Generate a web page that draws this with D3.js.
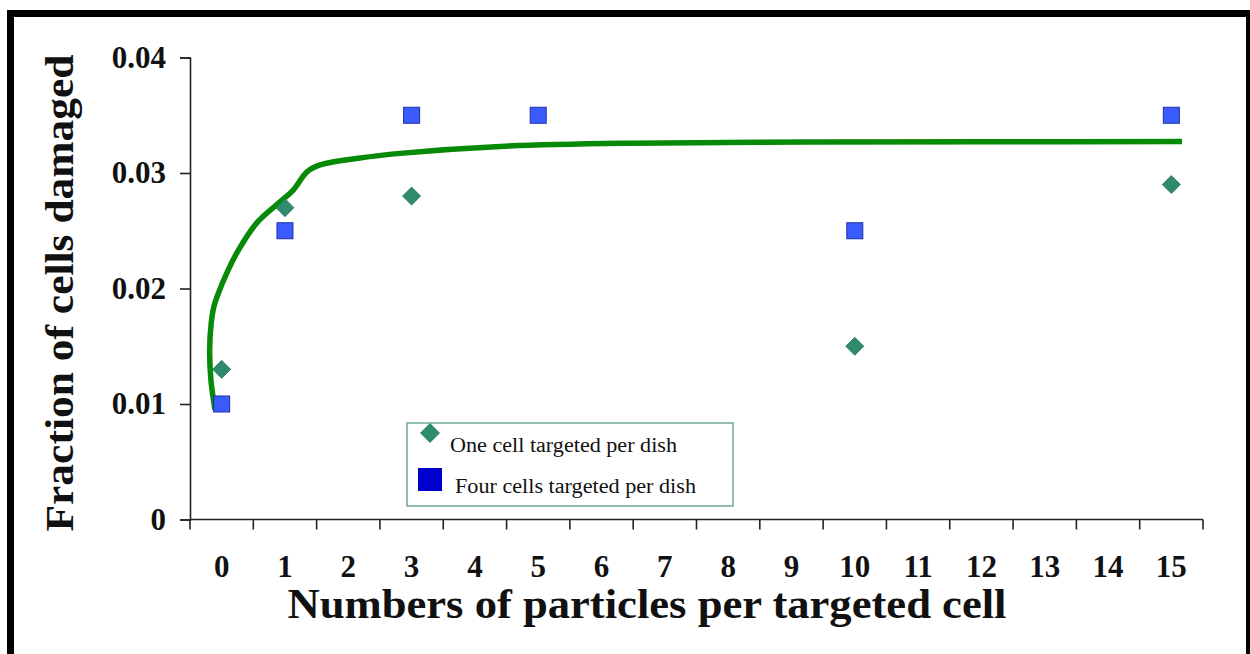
<!DOCTYPE html>
<html>
<head>
<meta charset="utf-8">
<script src="https://cdn.jsdelivr.net/npm/d3@7"></script>
<style>
  body { margin: 0; background: #fff; }
  svg { display: block; }
  text { font-family: 'Liberation Serif', 'Times New Roman', serif; }
</style>
</head>
<body>
<div id="chart"></div>
<script>
(function() {

  'use strict'

  // categories on the x axis
  var categories = ['0', '1', '2', '3', '4', '5', '6', '7', '8', '9', '10', '11', '12', '13', '14', '15'];

  // one cell targeted per dish (diamonds)
  var oneCellX = ['0', '1', '3', '10', '15'];
  var oneCellY = [0.013, 0.027, 0.028, 0.015, 0.029];

  // four cells targeted per dish (squares)
  var fourCellX = ['0', '1', '3', '5', '10', '15'];
  var fourCellY = [0.010, 0.025, 0.035, 0.035, 0.025, 0.035];

  // fitted curve, x in category index units
  var fitX = [-0.105, -0.17, -0.19, -0.165, -0.12, -0.03, 0.07, 0.242, 0.558, 0.922, 1.127, 1.348, 1.553, 2.185, 2.817, 4.397, 6.5, 9.3, 12.2, 15.169];
  var fitY = [0.0095, 0.0121, 0.0147, 0.0170, 0.0185, 0.0199, 0.0212, 0.0231, 0.0257, 0.0275, 0.0285, 0.0301, 0.0307, 0.0313, 0.0317, 0.0323, 0.03258, 0.03268, 0.03271, 0.03272];

  var yTicks = [0, 0.01, 0.02, 0.03, 0.04];
  var yTickLabels = ['0', '0.01', '0.02', '0.03', '0.04'];

  var width = 1250;
  var height = 654;
  var margin = { left: 190, right: 47, top: 57.5, bottom: 134.5 };

  var svg = d3.select('#chart').append('svg')
    .attr('width', width)
    .attr('height', height);

  // black frame (top, left, right)
  svg.append('rect').attr('x', 7).attr('y', 10).attr('width', width - 7).attr('height', 7).attr('fill', '#000');
  svg.append('rect').attr('x', 7).attr('y', 10).attr('width', 7).attr('height', height - 10).attr('fill', '#000');
  svg.append('rect').attr('x', 1246).attr('y', 10).attr('width', 4).attr('height', height - 10).attr('fill', '#000');

  var x = d3.scaleBand()
    .domain(categories)
    .range([margin.left, width - margin.right])
    .paddingInner(0)
    .paddingOuter(0);

  var xLin = d3.scaleLinear()
    .domain([-0.5, categories.length - 0.5])
    .range([margin.left, width - margin.right]);

  var y = d3.scaleLinear()
    .domain([0, 0.04])
    .range([height - margin.bottom, margin.top]);

  var axisColor = '#222';

  // y axis
  var yAxis = svg.append('g')
    .attr('transform', 'translate(' + margin.left + ',0)')
    .call(d3.axisLeft(y).tickValues(yTicks).tickSize(10).tickPadding(14)
      .tickFormat(function(d, i) { return yTickLabels[i]; }));
  yAxis.select('.domain').attr('stroke', axisColor).attr('stroke-width', 1.6);
  yAxis.selectAll('.tick line').attr('stroke', axisColor).attr('stroke-width', 1.6);
  yAxis.selectAll('.tick text')
    .attr('font-size', '31px')
    .attr('font-weight', 'bold')
    .attr('font-family', '\'Liberation Serif\', serif')
    .attr('fill', '#111');

  // x axis: ticks on band boundaries, labels in band centres
  var bounds = d3.range(categories.length + 1).map(function(i) { return xLin(i - 0.5); });
  var xAxis = svg.append('g');
  xAxis.append('line')
    .attr('x1', x.range()[0]).attr('x2', x.range()[1])
    .attr('y1', y(0)).attr('y2', y(0))
    .attr('stroke', axisColor).attr('stroke-width', 1.6);
  xAxis.selectAll('line.tick').data(bounds).enter().append('line')
    .attr('class', 'tick')
    .attr('x1', function(d) { return d; }).attr('x2', function(d) { return d; })
    .attr('y1', y(0)).attr('y2', y(0) + 10)
    .attr('stroke', axisColor).attr('stroke-width', 1.6);
  xAxis.selectAll('text').data(categories).enter().append('text')
    .attr('x', function(d) { return x(d) + x.bandwidth() / 2; })
    .attr('y', y(0) + 57)
    .attr('text-anchor', 'middle')
    .attr('font-size', '31px')
    .attr('font-weight', 'bold')
    .attr('fill', '#111')
    .text(String);

  // axis titles
  svg.append('text')
    .attr('x', 647)
    .attr('y', 618)
    .attr('text-anchor', 'middle')
    .attr('font-size', '42px')
    .attr('font-weight', 'bold')
    .attr('fill', '#111')
    .attr('textLength', 719)
    .attr('lengthAdjust', 'spacingAndGlyphs')
    .text('Numbers of particles per targeted cell');

  svg.append('text')
    .attr('transform', 'translate(73,293) rotate(-90)')
    .attr('text-anchor', 'middle')
    .attr('font-size', '40px')
    .attr('font-weight', 'bold')
    .attr('fill', '#111')
    .attr('textLength', 477)
    .attr('lengthAdjust', 'spacingAndGlyphs')
    .text('Fraction of cells damaged');

  // fitted curve
  var fit = fitX.map(function(d, i) { return [d, fitY[i]]; });
  svg.append('path')
    .datum(fit)
    .attr('fill', 'none')
    .attr('stroke', '#078a07')
    .attr('stroke-width', 5.5)
    .attr('stroke-linecap', 'butt')
    .attr('d', d3.line()
      .x(function(d) { return xLin(d[0]); })
      .y(function(d) { return y(d[1]); })
      .curve(d3.curveCatmullRom.alpha(0.5)));

  // squares
  var sq = 16;
  svg.selectAll('rect.four').data(fourCellX).enter().append('rect')
    .attr('class', 'four')
    .attr('x', function(d) { return x(d) + x.bandwidth() / 2 - sq / 2; })
    .attr('y', function(d, i) { return y(fourCellY[i]) - sq / 2; })
    .attr('width', sq).attr('height', sq)
    .attr('fill', '#3a5cff')
    .attr('stroke', '#1d2fa8')
    .attr('stroke-width', 1);

  // diamonds
  var dm = 9;
  var diamond = 'M0,' + (-dm) + 'L' + dm + ',0L0,' + dm + 'L' + (-dm) + ',0Z';
  svg.selectAll('path.one').data(oneCellX).enter().append('path')
    .attr('class', 'one')
    .attr('transform', function(d, i) {
      return 'translate(' + (x(d) + x.bandwidth() / 2) + ',' + y(oneCellY[i]) + ')';
    })
    .attr('d', diamond)
    .attr('fill', '#2e8b6c')
    .attr('stroke', '#23705a')
    .attr('stroke-width', 0.8);

  // legend
  var legend = svg.append('g');
  legend.append('rect')
    .attr('x', 407).attr('y', 423)
    .attr('width', 326).attr('height', 83)
    .attr('fill', '#fff')
    .attr('stroke', '#5a9c8c')
    .attr('stroke-width', 1.3);
  var ldm = 10;
  legend.append('path')
    .attr('transform', 'translate(430,433)')
    .attr('d', 'M0,' + (-ldm) + 'L' + ldm + ',0L0,' + ldm + 'L' + (-ldm) + ',0Z')
    .attr('fill', '#2e8b6c');
  legend.append('rect')
    .attr('x', 418).attr('y', 468)
    .attr('width', 24).attr('height', 23)
    .attr('fill', '#0000cc');
  legend.append('text')
    .attr('x', 450).attr('y', 452)
    .attr('font-size', '20px')
    .attr('fill', '#111')
    .attr('textLength', 227)
    .attr('lengthAdjust', 'spacingAndGlyphs')
    .text('One cell targeted per dish');
  legend.append('text')
    .attr('x', 455).attr('y', 493)
    .attr('font-size', '20px')
    .attr('fill', '#111')
    .attr('textLength', 241)
    .attr('lengthAdjust', 'spacingAndGlyphs')
    .text('Four cells  targeted per dish');

})();
</script>
</body>
</html>
